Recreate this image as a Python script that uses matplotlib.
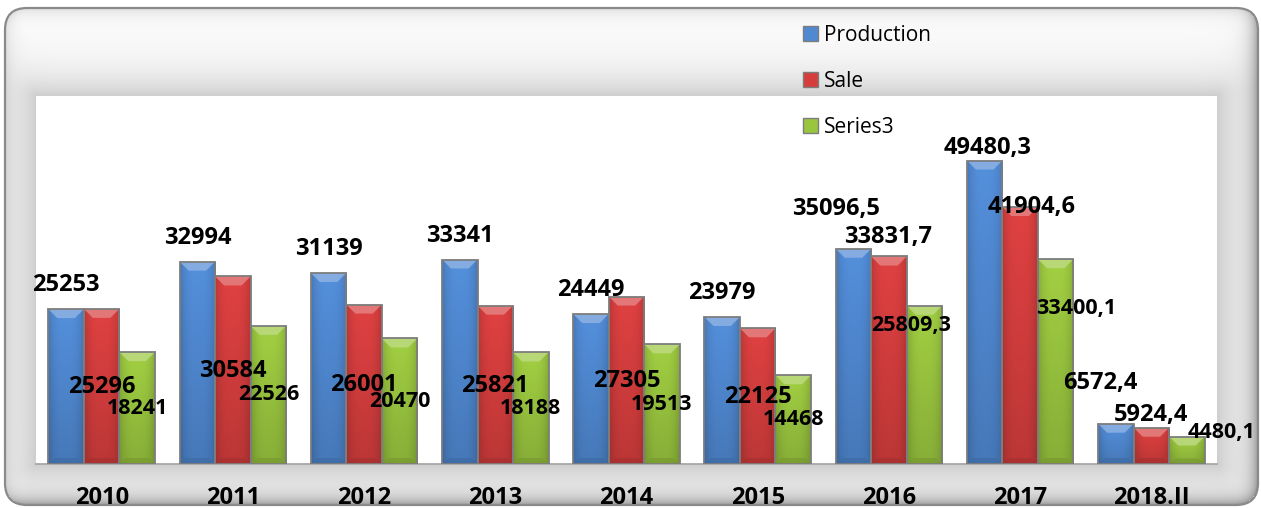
import numpy as np
import matplotlib
matplotlib.use('Agg')
import matplotlib.pyplot as plt
from matplotlib.patches import Patch, Polygon, FancyBboxPatch
from matplotlib.colors import to_rgb

# ---------------- data ----------------
categories = ['2010', '2011', '2012', '2013', '2014', '2015', '2016', '2017', '2018.II']
production = [25253, 32994, 31139, 33341, 24449, 23979, 35096.5, 49480.3, 6572.4]
sale = [25296, 30584, 26001, 25821, 27305, 22125, 33831.7, 41904.6, 5924.4]
series3 = [18241, 22526, 20470, 18188, 19513, 14468, 25809.3, 33400.1, 4480.1]
series_names = ['Production', 'Sale', 'Series3']

# ---------------- style ----------------
colors = ['#5089D2', '#D63E3E', '#9AC63F']
# label anchors ('top' = bar top, 'center' = bar middle) and pixel offsets
prod_anchor = ['top'] * 9
prod_off = [(0, 24)] * 6 + [(-17, 40), (3, 13), (-16, 41)]
sale_anchor = ['center'] * 6 + ['top'] * 3
sale_off = [(0, -1)] * 6 + [(-1, 19), (11, 0), (0, 13)]
s3_anchor = ['center'] * 6 + ['top'] * 3
s3_off = [(0, 0)] * 6 + [(-13, -20), (21, -49), (35, 4)]

plt.rcParams['font.family'] = ['Open Sans', 'DejaVu Sans']

W, H, DPI = 1261, 508, 100
fig = plt.figure(figsize=(W / DPI, H / DPI), dpi=DPI)

# ---------------- background frame ----------------
px0, px1, py0, py1 = 36, 1217, 96, 464
fx0, fx1, fy0, fy1, rr = 5, 1258, 8, 505, 22
yy, xx = np.mgrid[0:H, 0:W] + 0.5
ddx = np.maximum(np.maximum(px0 - xx, xx - px1), 0)
ddy = np.maximum(np.maximum(py0 - yy, yy - py1), 0)
d = np.hypot(ddx, ddy)
glow = 0.19 * np.exp(-d / 26.0) * (d > 0)
qx = np.abs(xx - (fx0 + fx1) / 2) - ((fx1 - fx0) / 2 - rr)
qy = np.abs(yy - (fy0 + fy1) / 2) - ((fy1 - fy0) / 2 - rr)
sd = np.hypot(np.maximum(qx, 0), np.maximum(qy, 0)) + np.minimum(np.maximum(qx, qy), 0) - rr
din = np.clip(-sd, 0, None)
inner = 0.12 * np.exp(-din / 8.0)
rb = 0.24 * np.exp(-np.clip(fx1 - xx, 0, None) / 9.0) + 0.24 * np.exp(-np.clip(fy1 - yy, 0, None) / 9.0)
val = 1 - glow - inner - rb
val = np.clip(val, 0.55, 1)
val[sd > 0] = 1.0
val[d == 0] = 1.0
bg = np.dstack([val] * 3)
bg_ax = fig.add_axes([0, 0, 1, 1], zorder=0)
bg_ax.imshow(bg, extent=[0, W, H, 0], interpolation='bilinear', aspect='auto')
bg_ax.add_patch(FancyBboxPatch((fx0, fy0), fx1 - fx0, fy1 - fy0,
                               boxstyle=f"round,pad=0,rounding_size={rr}",
                               fill=False, ec='#8a8a8a', lw=1.6))
bg_ax.set_xlim(0, W)
bg_ax.set_ylim(H, 0)
bg_ax.axis('off')

# ---------------- main axes ----------------
ax = fig.add_axes([px0 / W, 1 - py1 / H, (px1 - px0) / W, (py1 - py0) / H], zorder=1)
ax.set_facecolor('none')
YMAX = 60000
ax.set_xlim(-0.5, len(categories) - 0.5)
ax.set_ylim(0, YMAX)

xunit = (px1 - px0) / len(categories)     # pixels per x data unit
yunit = (py1 - py0) / YMAX                # pixels per y data unit
bw = 35.5 / xunit


def draw_bar(x, h, color):
    rect = ax.bar(x, h, width=bw, color=color, edgecolor='none', zorder=2)[0]
    base = np.array(to_rgb(color))
    nx, ny = 40, 120
    u = np.linspace(0, 1, nx)
    hor = 1 - 0.16 * np.abs(2 * u - 1) ** 3
    v = np.linspace(0, 1, ny)
    ver = 1.05 - 0.17 * v
    f = ver[:, None] * hor[None, :]
    img = np.clip(base[None, None, :] * f[:, :, None], 0, 1)
    im = ax.imshow(img, extent=[x - bw / 2, x + bw / 2, 0, h], aspect='auto',
                   origin='upper', zorder=2.1, interpolation='bilinear')
    im.set_clip_path(rect)
    # top bevel
    bxp = min(9 / xunit, bw / 2.5)
    byp = min(9 / yunit, h * 0.4)
    light = base + (1 - base) * 0.35
    ax.add_patch(Polygon([(x - bw / 2, h), (x + bw / 2, h), (x + bw / 2 - bxp, h - byp),
                          (x - bw / 2 + bxp, h - byp)], closed=True, fc=light, ec='none',
                         alpha=0.85, zorder=2.2))
    # bottom bevel
    byb = min(6 / yunit, h * 0.2)
    dark = base * 0.78
    ax.add_patch(Polygon([(x - bw / 2, 0), (x + bw / 2, 0), (x + bw / 2 - bxp * 0.7, byb),
                          (x - bw / 2 + bxp * 0.7, byb)], closed=True, fc=dark, ec='none',
                         alpha=0.7, zorder=2.2))
    ax.bar(x, h, width=bw, fill=False, edgecolor='#7d7d7d', linewidth=1.3, zorder=2.5)


def fmt(v):
    return f"{v:.10g}".replace('.', ',')


all_series = [production, sale, series3]
anchors = [prod_anchor, sale_anchor, s3_anchor]
offsets = [prod_off, sale_off, s3_off]
sizes = [17, 17, 15.5]
xs = np.arange(len(categories))
for s, vals in enumerate(all_series):
    for i, v in enumerate(vals):
        x = xs[i] + (s - 1) * bw
        draw_bar(x, v, colors[s])
        y = v if anchors[s][i] == 'top' else v / 2
        dx, dy = offsets[s][i]
        ax.annotate(fmt(v), xy=(x, y), xytext=(dx, dy), textcoords='offset pixels',
                    ha='center', va='center', fontsize=sizes[s], fontweight='bold',
                    color='black', zorder=5, annotation_clip=False)

for sp in ['top', 'left', 'right']:
    ax.spines[sp].set_visible(False)
ax.spines['bottom'].set_color('#a8a8a8')
ax.spines['bottom'].set_linewidth(1.3)
ax.spines['bottom'].set_zorder(1.5)
ax.set_yticks([])
ax.set_xticks(xs)
ax.set_xticklabels(categories, fontsize=17, fontweight='bold')
ax.tick_params(axis='x', length=0, pad=16)

handles = [Patch(facecolor=c, edgecolor='#7d7d7d') for c in colors]
leg = fig.legend(handles, series_names, loc='upper left', bbox_to_anchor=(803 / W, 1 - 25 / H),
                 frameon=False, fontsize=15, handlelength=0.7, handleheight=0.7,
                 handletextpad=0.3, labelspacing=1.2, borderpad=0, borderaxespad=0)
leg.set_zorder(10)

fig.savefig('out.png', dpi=DPI)
